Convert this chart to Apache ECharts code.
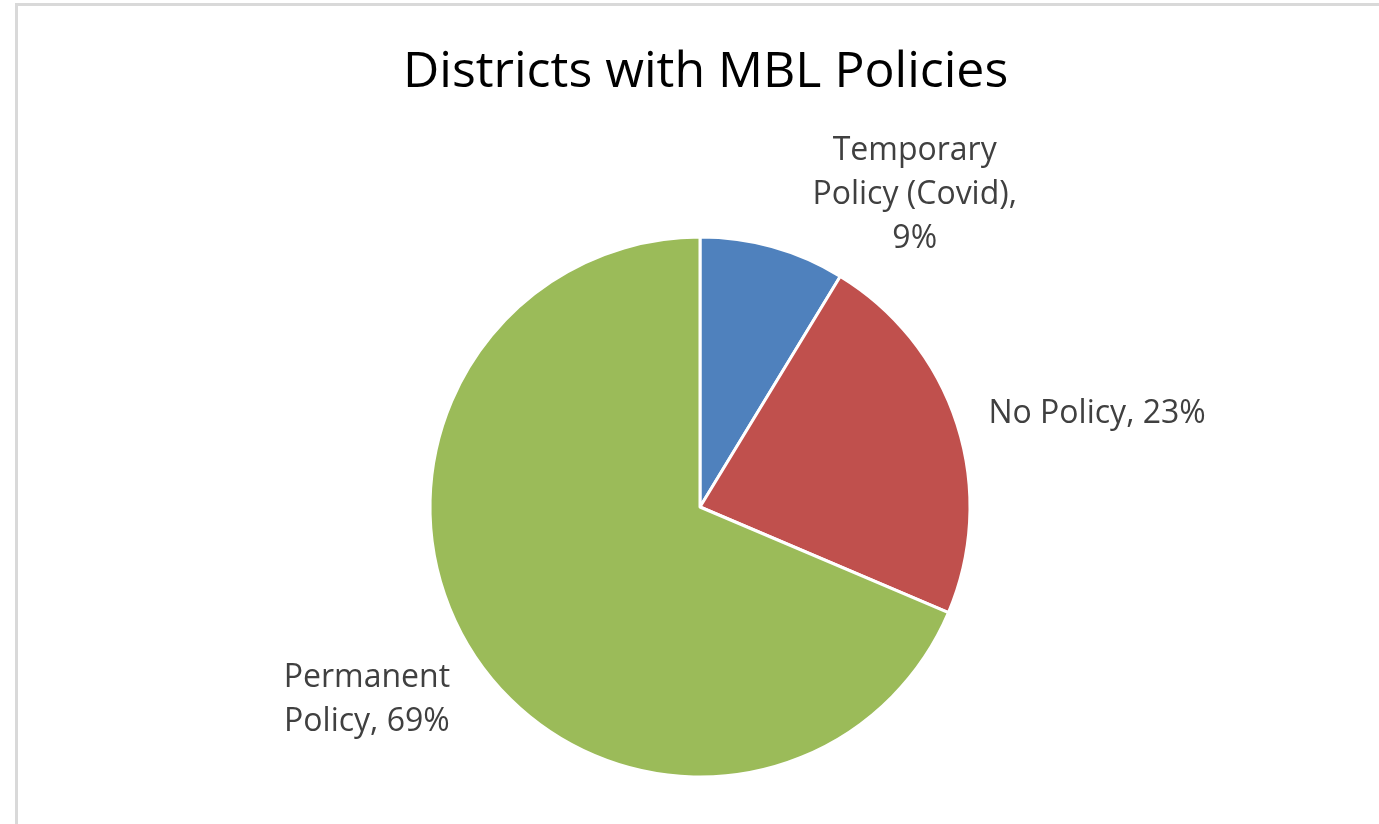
<!DOCTYPE html>
<html>
<head>
<meta charset="utf-8">
<title>Districts with MBL Policies</title>
<script src="https://cdn.jsdelivr.net/npm/echarts@6/dist/echarts.min.js"></script>
<style>
    html, body { margin: 0; padding: 0; background: #fff; }
    #pieChart { width: 1379px; height: 824px; }
</style>
</head>
<body>
<div id="pieChart"></div>
<script>
// Data (share of districts, %)
const categories = ['Temporary Policy (Covid)', 'No Policy', 'Permanent Policy'];
const values = [8.7, 22.7, 68.6];
const colors = ['#4F81BD', '#C0504D', '#9BBB59'];
// how each label wraps, like the original
const labelLines = [['Temporary', 'Policy (Covid),'], ['No Policy,'], ['Permanent', 'Policy,']];

// label placement tweaks (line length / distance), per slice
const labelLen = [54, 33, 80];
const labelLen2 = [25, 0, 0];
const labelDist = [0, 0, -42];

const total = values.reduce((a, b) => a + b, 0);
const font = '"Open Sans", "Noto Sans", sans-serif';

const chart = echarts.init(document.getElementById('pieChart'));

const pieData = categories.map((name, i) => ({
    name: name,
    value: values[i],
    itemStyle: { color: colors[i] },
    labelLine: { show: false, length: labelLen[i], length2: labelLen2[i] },
    label: { distanceToLabelLine: labelDist[i] }
}));

chart.setOption({
    backgroundColor: '#fff',
    animation: false,
    title: {
        text: 'Districts with MBL Policies',
        left: 398,
        top: 43,
        textStyle: { color: '#000', fontSize: 50, fontWeight: 'normal', fontFamily: font }
    },
    graphic: [{
        type: 'rect',
        shape: { x: 16.5, y: 4.5, width: 2000, height: 2000 },
        style: { fill: 'none', stroke: '#d9d9d9', lineWidth: 3 },
        silent: true
    }],
    series: [{
        type: 'pie',
        center: [700, 507],
        radius: 270,
        startAngle: 90,
        clockwise: true,
        avoidLabelOverlap: false,
        itemStyle: { borderColor: '#fff', borderWidth: 3 },
        label: {
            show: true,
            position: 'outside',
            color: '#404040',
            fontFamily: font,
            fontSize: 32,
            lineHeight: 44,
            formatter: params => {
                const pct = Math.round(params.value / total * 100) + '%';
                const parts = labelLines[params.dataIndex];
                const lines = parts.slice();
                if (parts.length === 2 && params.dataIndex === 0) lines.push(pct);
                else lines[lines.length - 1] += ' ' + pct;
                return lines.map(l => '{c|' + l + '}').join('\n');
            },
            rich: {
                c: { align: 'center', color: '#404040', fontFamily: font, fontSize: 32, lineHeight: 44 }
            }
        },
        emphasis: { disabled: true },
        data: pieData
    }]
});

window.addEventListener('resize', () => chart.resize());
</script>
</body>
</html>
